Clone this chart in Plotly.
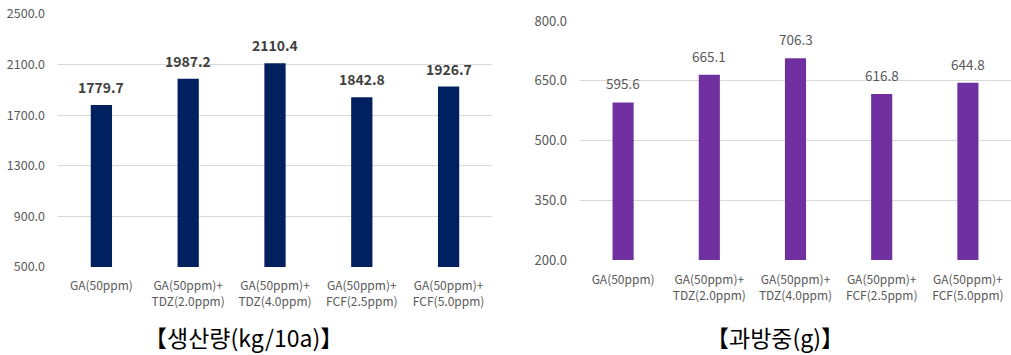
import plotly.graph_objects as go

# Treatment groups (two-line category labels)
categories = [
    "GA(50ppm)",
    "GA(50ppm)+<br>TDZ(2.0ppm)",
    "GA(50ppm)+<br>TDZ(4.0ppm)",
    "GA(50ppm)+<br>FCF(2.5ppm)",
    "GA(50ppm)+<br>FCF(5.0ppm)",
]

# Yield (kg/10a)
yield_values = [1779.7, 1987.2, 2110.4, 1842.8, 1926.7]
# Cluster weight (g)
cluster_weight = [595.6, 665.1, 706.3, 616.8, 644.8]

yield_ticks = [500, 900, 1300, 1700, 2100, 2500]
weight_ticks = [200, 350, 500, 650, 800]

yield_title = "【생산량(kg/10a)】"
weight_title = "【과방중(g)】"

NAVY = "#002060"
PURPLE = "#7030A0"
GRID = "#d9d9d9"
TICK = "#595959"
FONT = "Noto Sans CJK KR"

fig = go.Figure()

fig.add_trace(go.Bar(
    x=categories, y=yield_values, marker=dict(color=NAVY, line=dict(width=0)),
    xaxis="x", yaxis="y", showlegend=False, hoverinfo="x+y",
))
fig.add_trace(go.Bar(
    x=categories, y=cluster_weight, marker=dict(color=PURPLE, line=dict(width=0)),
    xaxis="x2", yaxis="y2", showlegend=False, hoverinfo="x+y",
))

annotations = []
# Value labels above the bars
for c, v in zip(categories, yield_values):
    annotations.append(dict(
        x=c, y=v, xref="x", yref="y", text=f"<b>{v:.1f}</b>", showarrow=False,
        yanchor="bottom", yshift=6, font=dict(family=FONT, size=14, color="#404040"),
    ))
for c, v in zip(categories, cluster_weight):
    annotations.append(dict(
        x=c, y=v, xref="x2", yref="y2", text=f"{v:.1f}", showarrow=False,
        yanchor="bottom", yshift=7, font=dict(family=FONT, size=13.5, color=TICK),
    ))

# Panel captions below the charts
annotations.append(dict(
    x=243 / 1011, y=1 - 337 / 355, xref="paper", yref="paper", text=yield_title,
    showarrow=False, xanchor="center", yanchor="middle",
    font=dict(family=FONT, size=23, color="#000000"),
))
annotations.append(dict(
    x=775 / 1011, y=1 - 337 / 355, xref="paper", yref="paper", text=weight_title,
    showarrow=False, xanchor="center", yanchor="middle",
    font=dict(family=FONT, size=23, color="#000000"),
))

fig.update_layout(
    width=1011, height=355,
    margin=dict(l=0, r=0, t=0, b=0, autoexpand=False),
    paper_bgcolor="white", plot_bgcolor="white",
    bargap=0.755,
    font=dict(family=FONT, color=TICK),
    xaxis=dict(
        domain=[58 / 1011, 492 / 1011], anchor="y", showgrid=False, showline=False,
        ticks="", tickfont=dict(size=12, color=TICK), tickangle=0, automargin=False,
        ticklabelstandoff=10,
    ),
    yaxis=dict(
        domain=[1 - 267 / 355, 1 - 14 / 355], anchor="x", range=[500, 2500],
        tickvals=yield_ticks, tickformat=".1f", showgrid=True, gridcolor=GRID,
        gridwidth=1, zeroline=False, showline=False, ticks="", automargin=False,
        tickfont=dict(size=12.5, color=TICK), ticklabelstandoff=12,
    ),
    xaxis2=dict(
        domain=[580 / 1011, 1.0], anchor="y2", showgrid=False, showline=False,
        ticks="", tickfont=dict(size=12, color=TICK), tickangle=0, automargin=False,
        ticklabelstandoff=11,
    ),
    yaxis2=dict(
        domain=[1 - 260 / 355, 1 - 21 / 355], anchor="x2", range=[200, 800],
        tickvals=weight_ticks, tickformat=".1f", showgrid=True, gridcolor=GRID,
        gridwidth=1, zeroline=False, showline=False, ticks="", automargin=False,
        tickfont=dict(size=13, color=TICK), ticklabelstandoff=12,
    ),
    annotations=annotations,
)

fig.write_html("out.html")
